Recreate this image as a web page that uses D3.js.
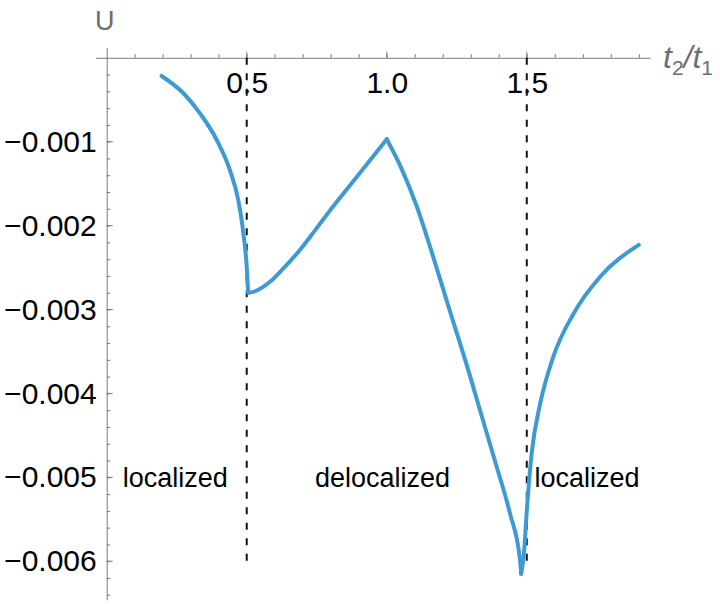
<!DOCTYPE html>
<html>
<head>
<meta charset="utf-8">
<script src="https://cdn.jsdelivr.net/npm/d3@7"></script>
<style>
  body { margin: 0; background: #fff; }
  svg { display: block; font-family: "Liberation Sans", Arial, sans-serif; }
</style>
</head>
<body>
<div id="chart"></div>
<script>
// curve, one branch per phase segment
const tBranch1 = [0.196, 0.274, 0.333, 0.393, 0.44, 0.47, 0.488, 0.5, 0.505];
const uBranch1 = [-0.000217, -0.000423, -0.000662, -0.00098, -0.00134, -0.0017, -0.00209, -0.00249, -0.0028];
const tBranch2 = [0.505, 0.524, 0.583, 0.631, 0.69, 0.75, 0.809, 0.869, 0.929, 1.0];
const uBranch2 = [-0.0028, -0.00279, -0.00267, -0.00251, -0.00229, -0.00203, -0.00177, -0.00152, -0.00127, -0.00097];
const tBranch3 = [1.0, 1.05, 1.107, 1.16, 1.22, 1.298, 1.339, 1.393, 1.44, 1.476, 1.48];
const uBranch3 = [-0.00097, -0.0013, -0.00177, -0.00231, -0.00296, -0.0038, -0.00427, -0.00488, -0.00543, -0.00599, -0.00615];
const tBranch4 = [1.48, 1.49, 1.5, 1.508, 1.518, 1.548, 1.595, 1.667, 1.762, 1.9];
const uBranch4 = [-0.00615, -0.0059, -0.0054, -0.00505, -0.0047, -0.00412, -0.00356, -0.00305, -0.00261, -0.00223];

const xTicks = [0.5, 1.0, 1.5];
const xMinorTicks = d3.range(1, 20).map(i => i / 10);
const yTicks = [-0.001, -0.002, -0.003, -0.004, -0.005, -0.006];
const yMinorTicks = d3.range(1, 33).map(i => -i * 0.0002);

const boundaries = [0.5, 1.5];   // dashed transition lines
const boundaryBottom = -0.006;

const regionLabels = ['localized', 'delocalized', 'localized'];
const regionX = [0.245, 0.985, 1.715];
const regionY = -0.005;

const width = 720;
const height = 604;

const x = d3.scaleLinear()
    .domain([-0.04, 1.94])
    .range([95.5, 650]);

const y = d3.scaleLinear()
    .domain([0.00012, -0.00646])
    .range([47.7, 599.8]);

const svg = d3.select('#chart').append('svg')
    .attr('width', width)
    .attr('height', height);

const axisColor = '#7a7a7a';

// x axis: ticks point up, labels sit under the line
const xAxisTicks = g => g
    .attr('transform', `translate(0, ${y(0)})`)
    .call(d3.axisTop(x).tickValues(xMinorTicks).tickSize(3.5).tickFormat('').tickSizeOuter(0))
    .call(g => g.selectAll('line').attr('stroke', axisColor))
    .call(g => g.select('.domain').attr('stroke', axisColor));

const xAxisLabels = g => g
    .attr('transform', `translate(0, ${y(0)})`)
    .call(d3.axisBottom(x).tickValues(xTicks).tickSize(0).tickPadding(14).tickFormat(d3.format('.1f')))
    .call(g => g.select('.domain').remove())
    .call(g => g.selectAll('text').attr('font-size', 30).attr('fill', '#000').attr('font-family', null));

const yAxisTicks = g => g
    .attr('transform', `translate(${x(0)}, 0)`)
    .call(d3.axisRight(y).tickValues(yMinorTicks).tickSize(3.5).tickFormat('').tickSizeOuter(0))
    .call(g => g.selectAll('line').attr('stroke', axisColor))
    .call(g => g.select('.domain').attr('stroke', axisColor));

const yAxisLabels = g => g
    .attr('transform', `translate(${x(0)}, 0)`)
    .call(d3.axisLeft(y).tickValues(yTicks).tickSize(0).tickPadding(10).tickFormat(d3.format('.3f')))
    .call(g => g.select('.domain').remove())
    .call(g => g.selectAll('text').attr('font-size', 30).attr('fill', '#000').attr('font-family', null));

svg.append('g').call(xAxisTicks);
svg.append('g').call(yAxisTicks);

// longer major ticks
svg.append('g')
    .selectAll('line').data(xTicks).enter().append('line')
    .attr('x1', d => x(d)).attr('x2', d => x(d))
    .attr('y1', y(0)).attr('y2', y(0) - 6)
    .attr('stroke', axisColor);
svg.append('g')
    .selectAll('line').data(yTicks).enter().append('line')
    .attr('x1', x(0)).attr('x2', x(0) + 6)
    .attr('y1', d => y(d)).attr('y2', d => y(d))
    .attr('stroke', axisColor);

svg.append('g').call(xAxisLabels);
svg.append('g').call(yAxisLabels);

// dashed phase boundaries
svg.append('g')
    .selectAll('line').data(boundaries).enter().append('line')
    .attr('x1', d => x(d)).attr('x2', d => x(d))
    .attr('y1', y(0)).attr('y2', y(boundaryBottom))
    .attr('stroke', '#111')
    .attr('stroke-width', 2)
    .attr('stroke-dasharray', '7,8.5');

// curve
const branches = [
    [tBranch1, uBranch1],
    [tBranch2, uBranch2],
    [tBranch3, uBranch3],
    [tBranch4, uBranch4]
].map(([ts, us]) => ts.map((t, i) => ({t: t, u: us[i]})));

const line = d3.line()
    .x(d => x(d.t))
    .y(d => y(d.u))
    .curve(d3.curveMonotoneX);

svg.append('g')
    .selectAll('path').data(branches).enter().append('path')
    .attr('d', line)
    .attr('fill', 'none')
    .attr('stroke', '#3d9ad3')
    .attr('stroke-width', 4)
    .attr('stroke-linecap', 'round')
    .attr('stroke-linejoin', 'round');

// region labels
svg.append('g')
    .selectAll('text').data(regionLabels).enter().append('text')
    .attr('x', (d, i) => x(regionX[i]))
    .attr('y', y(regionY))
    .attr('dy', '0.35em')
    .attr('text-anchor', 'middle')
    .attr('font-size', 27)
    .attr('fill', '#000')
    .text(d => d);

// axis titles
svg.append('text')
    .attr('x', 95)
    .attr('y', 30)
    .attr('font-size', 27)
    .attr('fill', '#6e6e6e')
    .text('U');

const xTitle = svg.append('text')
    .attr('x', 663)
    .attr('y', 68)
    .attr('font-size', 32)
    .attr('font-style', 'italic')
    .attr('fill', '#6e6e6e');
xTitle.append('tspan').text('t');
xTitle.append('tspan').attr('font-size', 21).attr('dy', 7).attr('font-style', 'normal').text('2');
xTitle.append('tspan').attr('dy', -7).text('/t');
xTitle.append('tspan').attr('font-size', 21).attr('dy', 7).attr('font-style', 'normal').text('1');
</script>
</body>
</html>
